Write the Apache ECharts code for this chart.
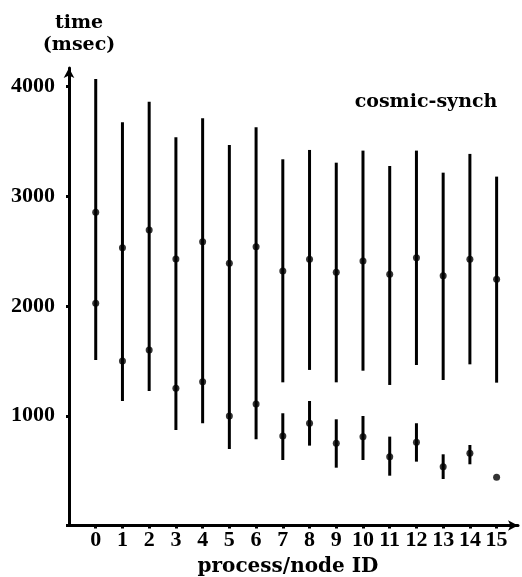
<!DOCTYPE html>
<html><head><meta charset="utf-8">
<script src="https://cdn.jsdelivr.net/npm/echarts@6/dist/echarts.min.js"></script>
<style>html,body{margin:0;padding:0;background:#fff}#c{width:522px;height:577px}</style>
</head><body><div id="c"></div>
<script>
// process / node IDs
const processIds = [0,1,2,3,4,5,6,7,8,9,10,11,12,13,14,15];
// upper range (msec)
const highTop    = [4070,3675,3863,3539,3712,3469,3630,3338,3423,3307,3417,3277,3417,3216,3387,3180];
const highBottom = [1509,1135,1226, 870, 932, 697, 786,1305,1418,1305,1411,1281,1463,1326,1469,1302];
const highDot    = [2855,2532,2694,2429,2587,2390,2541,2320,2427,2308,2411,2290,2441,2277,2427,2244];
// lower range (msec)
const lowTop     = [null,null,null,null,null,null,null,1023,1135, 968, 998, 810, 932, 649, 734,null];
const lowBottom  = [null,null,null,null,null,null,null, 597, 728, 527, 597, 454, 582, 424, 558,null];
const lowDot     = [2026,1500,1600,1251,1311, 998,1108, 816, 932, 749, 810, 627, 758, 536, 658, 439];
const yTickValues = [1000,2000,3000,4000];

const segs = [];
processIds.forEach((id, i) => {
  segs.push([id, highBottom[i], highTop[i]]);
  if (lowTop[i] != null) segs.push([id, lowBottom[i], lowTop[i]]);
});
const dots = [];
processIds.forEach((id, i) => {
  dots.push([id, highDot[i]]);
  dots.push([id, lowDot[i]]);
});

const chart = echarts.init(document.getElementById('c'), null, {renderer: 'canvas'});
const numFont = 'Liberation Serif';
const txtFont = 'DejaVu Serif';
chart.setOption({
  animation: false,
  backgroundColor: '#fff',
  grid: {left: 69, right: 4, top: 68, bottom: 51.5, containLabel: false},
  title: [
    {text: 'time', left: 74, top: 9, textAlign: 'center',
     textStyle: {fontFamily: txtFont, fontWeight: 'bold', fontSize: 19, color: '#000'}},
    {text: '(msec)', left: 74, top: 31, textAlign: 'center',
     textStyle: {fontFamily: txtFont, fontWeight: 'bold', fontSize: 19, color: '#000'}},
    {text: 'cosmic-synch', left: 421, top: 88, textAlign: 'center',
     textStyle: {fontFamily: txtFont, fontWeight: 'bold', fontSize: 19, color: '#000'}},
    {text: 'process/node ID', left: 283, top: 552, textAlign: 'center',
     textStyle: {fontFamily: txtFont, fontWeight: 'bold', fontSize: 20, color: '#000'}}
  ],
  xAxis: {
    type: 'value', min: -1, max: 15.8, interval: 1,
    splitLine: {show: false},
    axisLine: {onZero: false, lineStyle: {color: '#000', width: 3}, symbol: ['none', 'arrow'], symbolSize: [8, 10]},
    axisTick: {show: true, length: 3, lineStyle: {color: '#000', width: 3}},
    axisLabel: {
      margin: 4, color: '#000', fontFamily: numFont, fontWeight: 'bold', fontSize: 22,
      showMinLabel: false, showMaxLabel: false,
      formatter: v => (processIds.indexOf(v) >= 0 ? String(v) : '')
    }
  },
  yAxis: {
    type: 'value', min: 0, max: 4170, interval: 1000,
    splitLine: {show: false},
    axisLine: {onZero: false, lineStyle: {color: '#000', width: 3}, symbol: ['none', 'arrow'], symbolSize: [8, 10]},
    axisTick: {show: true, length: 3, lineStyle: {color: '#000', width: 3}},
    axisLabel: {
      margin: 14, color: '#000', fontFamily: numFont, fontWeight: 'bold', fontSize: 22,
      showMaxLabel: false,
      formatter: v => (yTickValues.indexOf(v) >= 0 ? String(v) : '')
    }
  },
  series: [
    {
      type: 'custom',
      data: segs,
      encode: {x: 0, y: [1, 2]},
      renderItem: (params, api) => {
        const x = api.value(0);
        const p1 = api.coord([x, api.value(1)]);
        const p2 = api.coord([x, api.value(2)]);
        return {type: 'line', shape: {x1: p1[0], y1: p1[1], x2: p2[0], y2: p2[1]},
                style: {stroke: '#000', lineWidth: 3}};
      }
    },
    {
      type: 'scatter', data: dots, symbol: 'circle', symbolSize: 7,
      itemStyle: {color: '#000'}
    }
  ]
});
</script></body></html>
